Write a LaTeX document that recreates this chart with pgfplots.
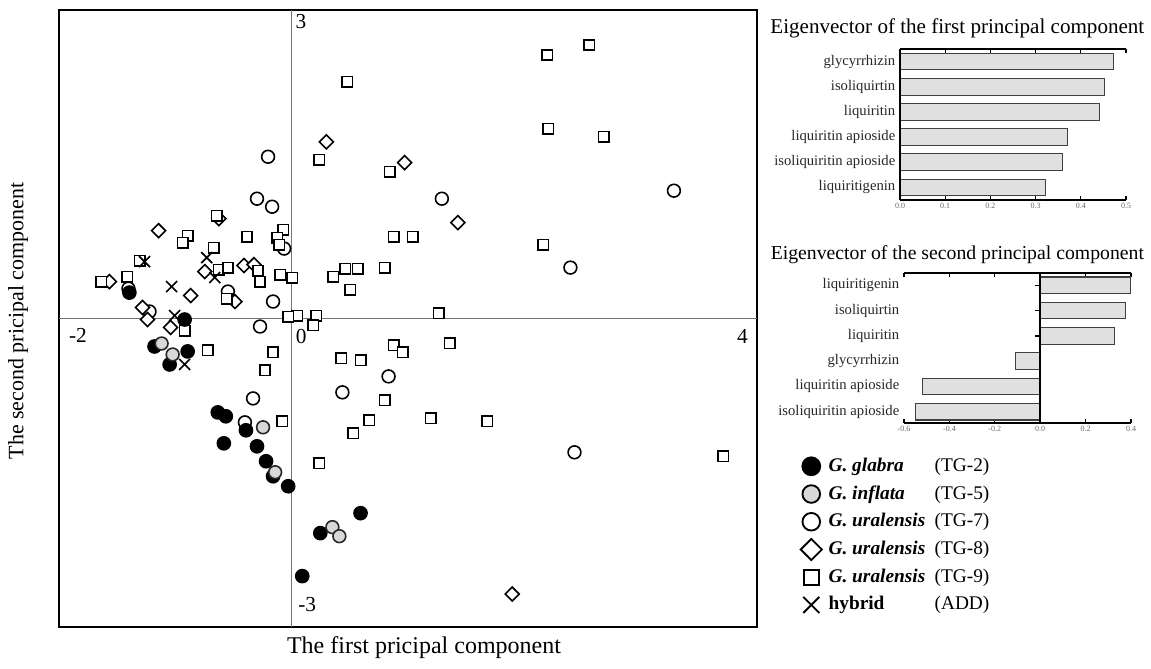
\documentclass[border=0pt]{standalone}
\usepackage{fontspec}
\setmainfont{Liberation Serif}
\usepackage{pgfplots}
\pgfplotsset{compat=1.18}
\definecolor{barfill}{HTML}{E0E0E0}
\definecolor{bardraw}{HTML}{404040}
\definecolor{grayfill}{HTML}{D8D8D8}
\begin{document}
\begin{tikzpicture}
\useasboundingbox (0,0) rectangle (863.25pt,501pt);
% ---------------- main scatter -----------------
\begin{axis}[
 at={(44.25pt,30.75pt)}, anchor=south west, scale only axis,
 width=523.5pt, height=462.75pt,
 xmin=-2, xmax=4, ymin=-3, ymax=3,
 xtick=\empty, ytick=\empty,
 axis line style={line width=0.8pt},
 clip=false,
 legend style={at={(1.064,0.2766)}, anchor=north west, draw=none, fill=none,
   inner sep=0pt, row sep=6.3pt, font=\fontsize{14.5}{17}\selectfont,
   nodes={inner sep=0pt, text height=11pt, text depth=3.5pt, anchor=west},
   cells={anchor=west}},
 legend image code/.code={\path[draw=none,fill=none] (0pt,-4pt) rectangle (20pt,4pt);
   \begin{pgfinterruptboundingbox}\draw[#1] plot coordinates {(7pt,0pt)};\end{pgfinterruptboundingbox}},
]
\draw[black!55, line width=1pt] (axis cs:-2,0) -- (axis cs:4,0);
\draw[black!55, line width=1pt] (axis cs:0,-3) -- (axis cs:0,3);
\node[font=\fontsize{16}{19}\selectfont] at (axis cs:-1.837,-0.165) {-2};
\node[font=\fontsize{16}{19}\selectfont] at (axis cs:0.082,-0.175) {0};
\node[font=\fontsize{16}{19}\selectfont] at (axis cs:3.875,-0.175) {4};
\node[font=\fontsize{16}{19}\selectfont] at (axis cs:0.08,2.883) {3};
\node[font=\fontsize{16}{19}\selectfont] at (axis cs:0.133,-2.777) {-3};
% TG-7 open circles
\addplot[only marks, mark=*, mark size=4.8pt, mark options={fill=white, draw=black, line width=1.2pt}, forget plot] coordinates {
(-0.203,1.573) (-0.298,1.165) (-0.168,1.087) (-0.065,0.680) (-0.548,0.262)
(-0.160,0.165) (-0.272,-0.078) (-1.222,0.068) (-1.403,0.291) (-0.332,-0.777)
(0.436,-0.718) (-0.402,-1.010) (0.833,-0.563) (2.431,-1.301) (1.291,1.165)
(3.286,1.243) (2.396,0.495)};
% TG-8 diamonds
\addplot[only marks, mark=square*, mark size=3.7pt, mark options={fill=white, draw=black, line width=1.2pt, rotate=45}, forget plot] coordinates {
(0.298,1.718) (0.971,1.515) (1.429,0.932) (1.896,-2.680) (-0.626,0.971)
(-1.144,0.854) (-1.567,0.359) (-0.747,0.456) (-0.868,0.223) (-0.410,0.515)
(-0.324,0.524) (-0.488,0.165) (-1.282,0.107) (-1.239,-0.010) (-1.041,-0.087)};
% TG-9 squares
\addplot[only marks, mark=square*, mark size=3.9pt, mark options={fill=white, draw=black, line width=1.2pt}, forget plot] coordinates {
(0.479,2.301) (2.198,2.563) (2.560,2.660) (2.206,1.845) (2.681,1.767)
(0.237,1.544) (0.842,1.427) (0.877,0.796) (1.041,0.796) (2.163,0.718)
(0.358,0.408) (0.462,0.485) (0.566,0.485) (0.799,0.495) (0.505,0.282)
(0.004,0.398) (0.047,0.029) (0.212,0.029) (1.265,0.049) (0.186,-0.068)
(0.427,-0.388) (0.592,-0.408) (0.877,-0.262) (0.954,-0.330) (1.360,-0.243)
(0.799,-0.796) (0.669,-0.990) (0.531,-1.117) (1.196,-0.971) (1.680,-1.000)
(0.237,-1.408) (3.709,-1.340) (-0.643,1.000) (-0.894,0.806) (-0.937,0.738)
(-0.384,0.796) (-0.073,0.864) (-0.125,0.786) (-0.108,0.718) (-0.669,0.689)
(-0.626,0.476) (-0.548,0.495) (-0.289,0.466) (-0.272,0.359) (-0.099,0.427)
(-0.557,0.194) (-0.030,0.019) (-0.920,-0.117) (-1.308,0.563) (-1.412,0.408)
(-1.636,0.359) (-0.721,-0.311) (-0.160,-0.330) (-0.229,-0.505) (-0.082,-1.000)};
% hybrid crosses
\addplot[only marks, mark=x, mark size=5.8pt, mark options={draw=black, line width=1.2pt}, forget plot] coordinates {
(-1.265,0.553) (-1.032,0.311) (-0.730,0.592) (-0.661,0.398) (-1.006,0.029) (-0.920,-0.447)};
% TG-2 black
\addplot[only marks, mark=*, mark size=5pt, mark options={fill=black, draw=black, line width=1pt}, forget plot] coordinates {
(-1.395,0.252) (-0.920,-0.010) (-1.179,-0.272) (-0.894,-0.320) (-1.049,-0.447)
(-0.635,-0.913) (-0.566,-0.951) (-0.393,-1.087) (-0.583,-1.214) (-0.298,-1.243)
(-0.220,-1.388) (-0.160,-1.534) (-0.030,-1.631) (0.592,-1.893) (0.246,-2.087)
(0.091,-2.505)};
% TG-5 grey
\addplot[only marks, mark=*, mark size=4.8pt, mark options={fill=grayfill, draw=black!85, line width=1.2pt}, forget plot] coordinates {
(-0.246,-1.058) (-0.142,-1.495) (0.350,-2.029) (0.410,-2.117) (-1.118,-0.243) (-1.023,-0.350)};
% legend
\addlegendimage{only marks, mark=*, mark size=6.8pt, mark options={fill=black, draw=black, line width=1.2pt}}
\addlegendentry{\makebox[79.5pt][l]{\textbf{\textit{G. glabra}}}(TG-2)}
\addlegendimage{only marks, mark=*, mark size=6.6pt, mark options={fill=grayfill, draw=black, line width=1.4pt}}
\addlegendentry{\makebox[79.5pt][l]{\textbf{\textit{G. inflata}}}(TG-5)}
\addlegendimage{only marks, mark=*, mark size=6.6pt, mark options={fill=white, draw=black, line width=1.4pt}}
\addlegendentry{\makebox[79.5pt][l]{\textbf{\textit{G. uralensis}}}(TG-7)}
\addlegendimage{only marks, mark=square*, mark size=5.6pt, mark options={fill=white, draw=black, line width=1.4pt, rotate=45}}
\addlegendentry{\makebox[79.5pt][l]{\textbf{\textit{G. uralensis}}}(TG-8)}
\addlegendimage{only marks, mark=square*, mark size=5.6pt, mark options={fill=white, draw=black, line width=1.4pt}}
\addlegendentry{\makebox[79.5pt][l]{\textbf{\textit{G. uralensis}}}(TG-9)}
\addlegendimage{only marks, mark=x, mark size=8.5pt, mark options={draw=black, line width=1.4pt}}
\addlegendentry{\makebox[79.5pt][l]{\textbf{hybrid}}(ADD)}
\end{axis}
\node[font=\fontsize{18}{21}\selectfont] at (318pt,15pt) {The first pricipal component};
\node[font=\fontsize{16.5}{19}\selectfont, rotate=90] at (13.5pt,260.25pt) {The second pricipal component};
% ---------------- bar chart 1 -----------------
\node[font=\fontsize{15.8}{18}\selectfont] at (718pt,480pt) {Eigenvector of the first principal component};
\begin{axis}[
 at={(675pt,351pt)}, anchor=south west, scale only axis,
 width=169.5pt, height=113.25pt,
 xbar, bar width=0.66,
 xmin=0, xmax=0.5, ymin=-0.5, ymax=5.5,
 axis line style={draw=none},
 clip=false,
 xtick={0,0.1,0.2,0.3,0.4,0.5},
 xticklabels={0.0,0.1,0.2,0.3,0.4,0.5},
 xtick pos=both, xticklabel pos=lower, tick align=inside,
 major tick length=3pt,
 x tick style={black, line width=1pt},
 xticklabel style={font=\fontsize{6}{7}\selectfont, text=black!60, yshift=1pt},
 ytick={0,1,2,3,4,5},
 yticklabels={liquiritigenin,isoliquiritin apioside,liquiritin apioside,liquiritin,isoliquirtin,glycyrrhizin},
 y tick style={draw=none},
 yticklabel style={font=\fontsize{11}{13}\selectfont, text=black!85},
]
\addplot[fill=barfill, draw=bardraw, line width=0.8pt] coordinates {
(0.321,0) (0.360,1) (0.370,2) (0.441,3) (0.452,4) (0.473,5)};
\draw[black, line width=1.5pt] (rel axis cs:0,0) -- (rel axis cs:0,1);
\draw[black, line width=1.5pt] (rel axis cs:0,1) -- (rel axis cs:1,1);
\draw[black, line width=1.5pt] (rel axis cs:0,0) -- (rel axis cs:1,0);
\end{axis}
% ---------------- bar chart 2 -----------------
\node[font=\fontsize{14.8}{17}\selectfont] at (718pt,309.75pt) {Eigenvector of the second principal component};
\begin{axis}[
 at={(678pt,183.75pt)}, anchor=south west, scale only axis,
 width=170.25pt, height=112.7pt,
 xbar, bar width=0.66,
 xmin=-0.6, xmax=0.4, ymin=-0.45, ymax=5.5,
 axis line style={draw=none},
 clip=false,
 xtick={-0.6,-0.4,-0.2,0,0.2,0.4},
 xticklabels={-0.6,-0.4,-0.2,0.0,0.2,0.4},
 xtick pos=both, xticklabel pos=lower, tick align=inside,
 major tick length=3pt,
 x tick style={black, line width=1pt},
 xticklabel style={font=\fontsize{6}{7}\selectfont, text=black!60, yshift=1pt},
 ytick={0,1,2,3,4,5},
 yticklabels={isoliquiritin apioside,liquiritin apioside,glycyrrhizin,liquiritin,isoliquirtin,liquiritigenin},
 y tick style={draw=none},
 yticklabel style={font=\fontsize{11}{13}\selectfont, text=black!85},
]
\addplot[fill=barfill, draw=bardraw, line width=0.8pt] coordinates {
(-0.551,0) (-0.517,1) (-0.107,2) (0.326,3) (0.377,4) (0.396,5)};
\draw[black, line width=1.5pt] (axis cs:0,-0.45) -- (axis cs:0,5.5);
\draw[black, line width=1.5pt] (rel axis cs:0,1) -- (rel axis cs:1,1);
\draw[black, line width=1.5pt] (rel axis cs:0,0) -- (rel axis cs:1,0);
\draw[black, line width=1.2pt] (axis cs:0,5) -- ++(-4pt,0pt);
\draw[black, line width=1.2pt] (axis cs:0,4) -- ++(-4pt,0pt);
\draw[black, line width=1.2pt] (axis cs:0,3) -- ++(-4pt,0pt);
\end{axis}
\end{tikzpicture}
\end{document}
